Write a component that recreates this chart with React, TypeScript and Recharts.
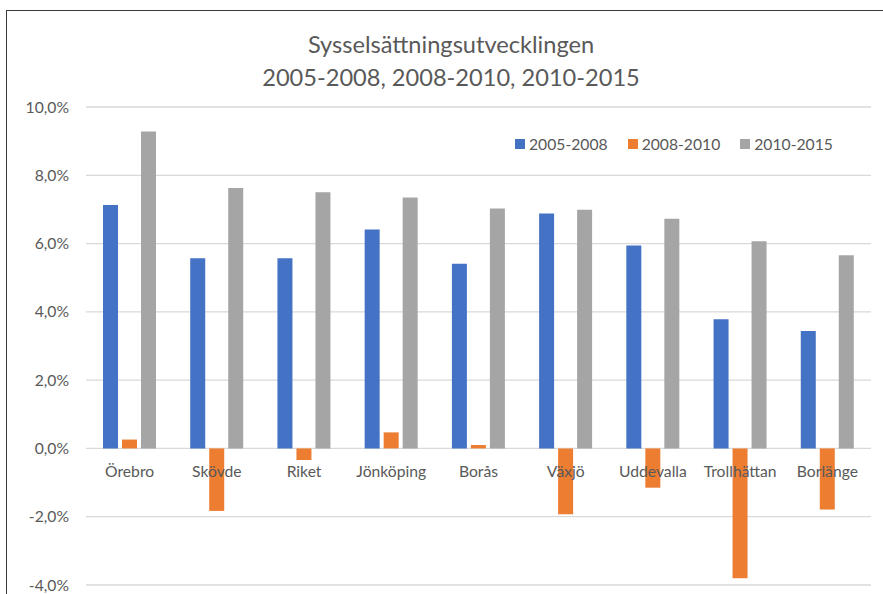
import React from 'react';
import { BarChart, Bar, XAxis, YAxis, CartesianGrid, Legend } from 'recharts';

const kommuner = ['Örebro', 'Skövde', 'Riket', 'Jönköping', 'Borås', 'Växjö', 'Uddevalla', 'Trollhättan', 'Borlänge'];
const p2005_2008 = [7.13, 5.57, 5.57, 6.41, 5.41, 6.88, 5.94, 3.78, 3.44];
const p2008_2010 = [0.26, -1.83, -0.34, 0.47, 0.1, -1.93, -1.15, -3.8, -1.79];
const p2010_2015 = [9.28, 7.63, 7.5, 7.35, 7.03, 6.99, 6.73, 6.07, 5.66];
const yTicks = [-4, -2, 0, 2, 4, 6, 8, 10];

const series = [
	{ key: '2005-2008', color: '#4472C4' },
	{ key: '2008-2010', color: '#ED7D31' },
	{ key: '2010-2015', color: '#A5A5A5' },
];

const data = kommuner.map((name, i) => ({
	name,
	'2005-2008': p2005_2008[i],
	'2008-2010': p2008_2010[i],
	'2010-2015': p2010_2015[i],
}));

const W = 883;
const H = 594;
const X_AXIS_H = 1;
const MARGIN = { top: 107, right: 12, bottom: 8, left: 0 };
const Y_MIN = -4;
const Y_MAX = 10;
const TEXT = '#595959';
const FONT = 'Lato, "Open Sans", sans-serif';

// x labels sit under the zero line, not at the bottom of the plot
const plotH = H - MARGIN.top - MARGIN.bottom - X_AXIS_H;
const zeroY = MARGIN.top + (plotH * Y_MAX) / (Y_MAX - Y_MIN);

const fmt = (v: number) => v.toFixed(1).replace('.', ',') + '%';

const CategoryTick = (props: any) => {
	const { x, payload } = props;
	return (
		<text x={x} y={zeroY + 29} textAnchor="middle" fill={TEXT} fontSize={15.7} fontFamily={FONT}>
			{payload.value}
		</text>
	);
};

const renderLegend = () => (
	<div style={{ display: 'flex', alignItems: 'center', fontFamily: FONT, fontSize: 15.7, color: TEXT }}>
		{series.map((s) => (
			<div key={s.key} style={{ display: 'flex', alignItems: 'center', marginRight: 20 }}>
				<span style={{ width: 10, height: 10, background: s.color, display: 'inline-block', marginRight: 4 }} />
				<span>{s.key}</span>
			</div>
		))}
	</div>
);

export default function App() {
	return (
		<div style={{ position: 'absolute', left: 0, top: 0, width: W, height: H, overflow: 'hidden', background: '#fff' }}>
			<div
				style={{
					position: 'absolute',
					left: 6,
					top: 10,
					width: 1200,
					height: 1200,
					borderLeft: '1.5px solid #3a3a3a',
					borderTop: '1.5px solid #3a3a3a',
				}}
			/>
			<div
				style={{
					position: 'absolute',
					left: 0,
					top: 28,
					width: 902,
					textAlign: 'center',
					fontFamily: FONT,
					fontSize: 23.6,
					lineHeight: '33px',
					color: TEXT,
				}}
			>
				<div>Sysselsättningsutvecklingen</div>
				<div>2005-2008, 2008-2010, 2010-2015</div>
			</div>
			<div style={{ position: 'absolute', left: 0, top: 0 }}>
				<BarChart width={W} height={H} data={data} margin={MARGIN} barSize={15} barGap={4}>
					<CartesianGrid vertical={false} stroke="#D9D9D9" strokeWidth={1.3} />
					<XAxis
						dataKey="name"
						height={X_AXIS_H}
						axisLine={false}
						tickLine={false}
						tick={<CategoryTick />}
						interval={0}
					/>
					<YAxis
						width={86}
						domain={[Y_MIN, Y_MAX]}
						ticks={yTicks}
						tickFormatter={fmt}
						axisLine={false}
						tickLine={false}
						tickSize={6}
						tickMargin={11}
						tick={{ fill: TEXT, fontSize: 15.7, fontFamily: FONT }}
						interval={0}
					/>
					<Legend
						layout="horizontal"
						verticalAlign="middle"
						align="center"
						content={renderLegend}
						wrapperStyle={{ left: 515, top: 135, width: 360 }}
					/>
					{series.map((s) => (
						<Bar key={s.key} dataKey={s.key} fill={s.color} isAnimationActive={false} />
					))}
				</BarChart>
			</div>
		</div>
	);
}
